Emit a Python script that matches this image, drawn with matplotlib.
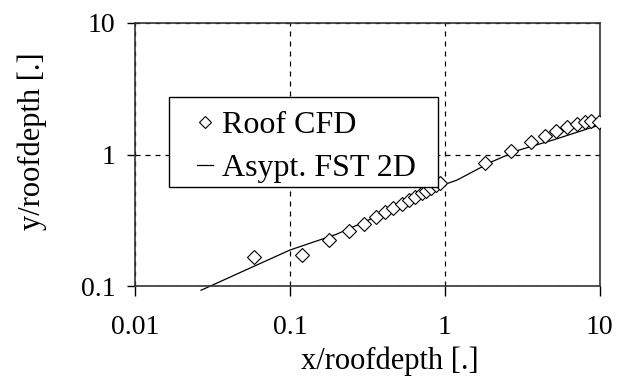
import numpy as np
import matplotlib.pyplot as plt
from matplotlib.patches import Rectangle
from matplotlib.ticker import FixedLocator, FixedFormatter, NullLocator

# roof CFD results (x/roofdepth, y/roofdepth)
cfd_x = [0.059, 0.119, 0.179, 0.240, 0.300, 0.362, 0.41, 0.465, 0.526, 0.586,
         0.64, 0.708, 0.76, 0.82, 0.88, 0.93, 1.81, 2.69, 3.62, 4.42,
         5.25, 6.15, 7.08, 8.0, 8.8, 9.87]
cfd_y = [0.167, 0.172, 0.224, 0.264, 0.296, 0.333, 0.363, 0.39, 0.42, 0.45,
         0.478, 0.507, 0.53, 0.553, 0.587, 0.61, 0.857, 1.07, 1.25, 1.38,
         1.51, 1.63, 1.71, 1.78, 1.81, 1.78]

# asymptotic free-streamline theory, 2D
fst_x = [0.0267, 0.05, 0.1, 0.2, 0.5, 1.0, 1.2, 2.0, 3.0, 5.0, 10.0]
fst_y = [0.093, 0.130, 0.188, 0.248, 0.40, 0.593, 0.64, 0.88, 1.08, 1.29, 1.68]

x_ticks = [0.01, 0.1, 1, 10]
x_labels = ['0.01', '0.1', '1', '10']
y_ticks = [0.1, 1, 10]
y_labels = ['0.1', '1', '10']

plt.rcParams['font.family'] = 'Liberation Serif'

fig = plt.figure(figsize=(6.19, 3.76), dpi=100)
ax = fig.add_axes([0.218, 0.239, 0.751, 0.700])

ax.plot(cfd_x, cfd_y, linestyle='none', marker='D', markersize=7.5,
        markerfacecolor='white', markeredgecolor='black', markeredgewidth=0.8,
        label='Roof CFD', zorder=3)
ax.plot(fst_x, fst_y, color='black', linewidth=0.9, label='Asypt. FST 2D',
        zorder=2, clip_on=False)

ax.set_xscale('log')
ax.set_yscale('log')
ax.set_xlim(0.01, 10)
ax.set_ylim(0.1, 10)

ax.xaxis.set_major_locator(FixedLocator(x_ticks))
ax.xaxis.set_major_formatter(FixedFormatter(x_labels))
ax.yaxis.set_major_locator(FixedLocator(y_ticks))
ax.yaxis.set_major_formatter(FixedFormatter(y_labels))
ax.xaxis.set_minor_locator(NullLocator())
ax.yaxis.set_minor_locator(NullLocator())

ax.tick_params(axis='x', direction='out', length=7.5, width=1, labelsize=20, pad=13)
ax.tick_params(axis='y', direction='out', length=6, width=1, labelsize=20, pad=8)
ax.grid(True, which='major', linestyle=(0, (4, 4)), color='black', linewidth=0.9)

for s in ax.spines.values():
    s.set_linewidth(1.2)
    s.set_color('#333333')

ax.set_xlabel('x/roofdepth [.]', fontsize=22)
ax.xaxis.set_label_coords(0.548, -0.228)
ax.set_ylabel('y/roofdepth [.]', fontsize=22)
ax.yaxis.set_label_coords(-0.19, 0.551)

# legend box drawn separately so the padding can be wider than tall
ax.add_patch(Rectangle((0.073, 0.376), 0.578, 0.343, transform=ax.transAxes,
                       facecolor='white', edgecolor='black', linewidth=1.0,
                       zorder=4))
leg = ax.legend(loc='upper left', bbox_to_anchor=(0.099, 0.727), fontsize=23,
                handlelength=0.5, handletextpad=0.3, markerscale=0.75,
                borderpad=0.0, labelspacing=0.43, frameon=False)
leg.set_zorder(5)

fig.savefig('out.png', dpi=100)
